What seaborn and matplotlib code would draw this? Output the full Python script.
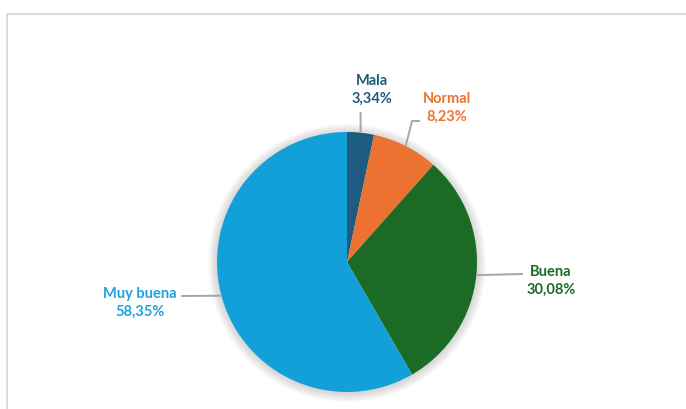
import numpy as np
import matplotlib
matplotlib.use("Agg")
import matplotlib.pyplot as plt
from matplotlib.lines import Line2D
from matplotlib.patches import Circle
import seaborn as sns

categories = ["Mala", "Normal", "Buena", "Muy buena"]
shares = [3.34, 8.23, 30.08, 58.35]
value_labels = ["3,34%", "8,23%", "30,08%", "58,35%"]

slice_colors = ["#1d5c80", "#ec7232", "#1b6b25", "#13a0d8"]
text_colors = ["#1d5c80", "#ec7232", "#1b6b25", "#1ea3db"]

sns.set_theme(style="white")
plt.rcParams["font.family"] = ["Lato", "DejaVu Sans"]

W, H = 686, 410
fig = plt.figure(figsize=(W / 100, H / 100), dpi=100)
ax = fig.add_axes([0, 0, 1, 1])
ax.set_xlim(0, W)
ax.set_ylim(0, H)
ax.set_aspect("equal")
ax.axis("off")

cx, cy, R = 347, H - 263, 130

# soft glow around the pie
for i in range(9, 0, -1):
    ax.add_patch(Circle((cx, cy - 1), R + i, color="#808080", alpha=0.035, lw=0, zorder=1))

wedges, _ = ax.pie(shares, colors=slice_colors, startangle=90, counterclock=False,
                   center=(cx, cy), radius=R, frame=True,
                   wedgeprops=dict(linewidth=0, zorder=2))
ax.set_xlim(0, W)
ax.set_ylim(0, H)
ax.axis("off")

# label placement (pixel coords, y downward) and leader line elbows
label_pos = [(372, 90), (447, 108), (551, 281), (140, 303)]
elbows = [[(360.5, 113)], [(412, 122), (420, 122)], [(523, 275)], [(181, 297)]]

for w, cat, val, col, (lx, ly), elb in zip(wedges, categories, value_labels,
                                           text_colors, label_pos, elbows):
    mid = np.deg2rad((w.theta1 + w.theta2) / 2)
    ax_pt = (cx + R * np.cos(mid), cy + R * np.sin(mid))
    xs = [ax_pt[0]] + [p[0] for p in elb]
    ys = [ax_pt[1]] + [H - p[1] for p in elb]
    ax.plot(xs, ys, color="#a6a6a6", lw=1.4, zorder=3, solid_capstyle="butt")
    ax.text(lx, H - ly, f"{cat}\n{val}", color=col, fontsize=10.5, fontweight="bold",
            ha="center", va="center", linespacing=1.35, zorder=4)

# chart frame (top and left edges)
fig.add_artist(Line2D([6.5 / W, 1], [1 - 14.5 / H, 1 - 14.5 / H],
                      transform=fig.transFigure, color="#d9d9d9", lw=1.3))
fig.add_artist(Line2D([6.5 / W, 6.5 / W], [0, 1 - 14.5 / H],
                      transform=fig.transFigure, color="#d9d9d9", lw=1.3))

fig.savefig("out.png", dpi=100, facecolor="white")
